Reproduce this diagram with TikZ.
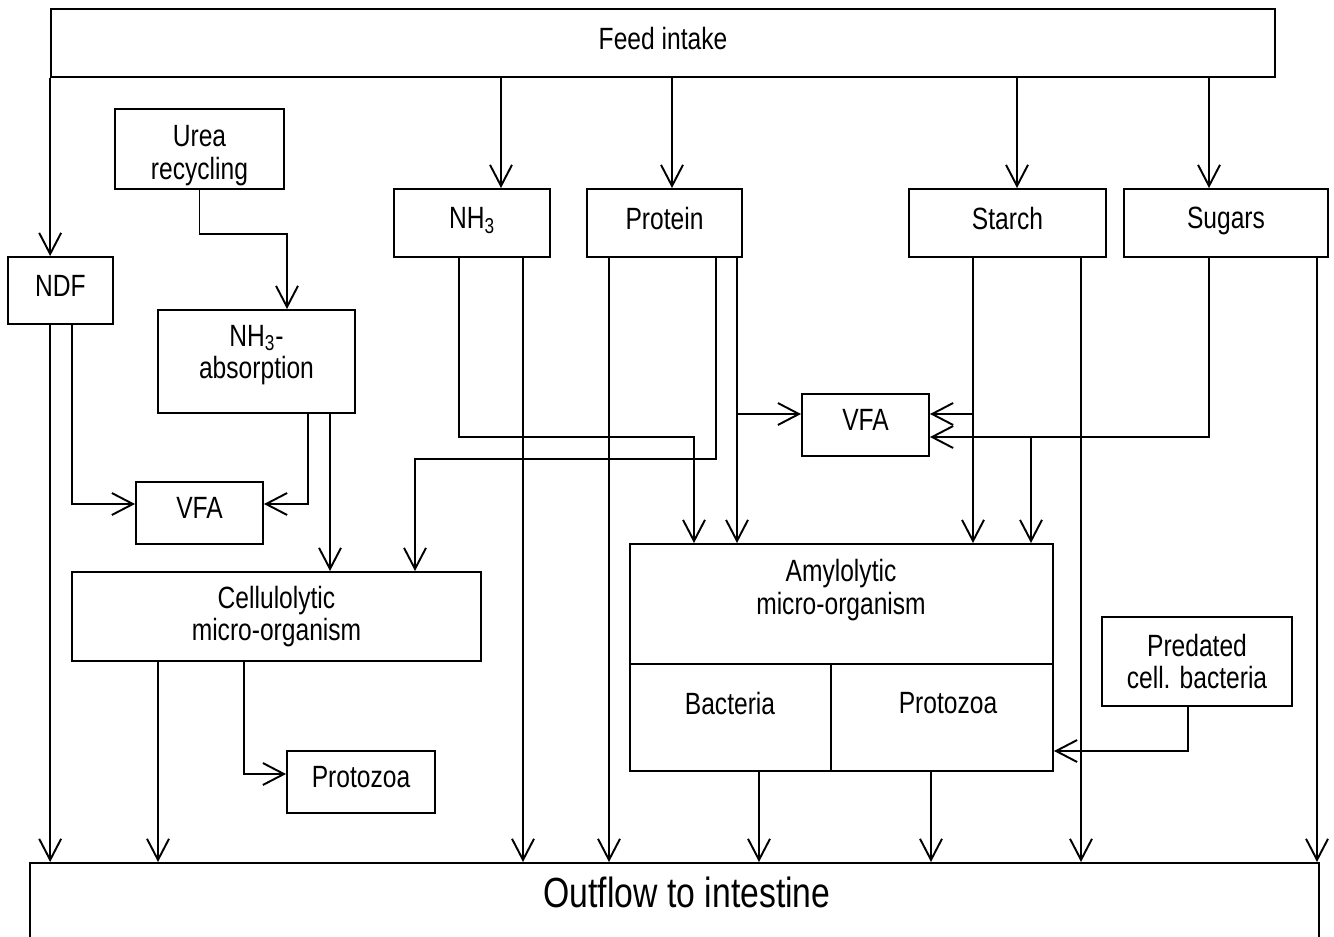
\documentclass[tikz,border=0pt]{standalone}
\usepackage{fontspec}
\setmainfont{Liberation Sans}[FakeStretch=0.8]
\usepackage{tikz}
\usetikzlibrary{arrows.meta, calc, positioning}
\tikzset{
  box/.style={
    rectangle, draw=black, line width=1.1pt,
    align=center, inner sep=0pt, font=\fontsize{17.5}{18.5}\selectfont
  },
  onebox/.style={box, text depth=5.5pt},
  txt/.style={align=center, inner sep=0pt, font=\fontsize{17.5}{18.5}\selectfont},
  flow/.style={-{Straight Barb[length=12pt,width=12.5pt]}, black, line width=1.1pt}
}

\begin{document}
\begin{tikzpicture}[x=0.02cm, y=-0.02cm]
\useasboundingbox (0,0) rectangle (1334,936);
\node[onebox,minimum width=24.48cm,minimum height=1.36cm] (feed) at (663,43) {Feed intake};
\node[box,minimum width=3.38cm,minimum height=1.6cm,text height=38pt] (urea) at (199.5,149) {Urea\\recycling};
\node[onebox,minimum width=2.1cm,minimum height=1.34cm] (ndf) at (60.5,290.5) {NDF};
\node[box,minimum width=3.94cm,minimum height=2.06cm,text depth=11pt] (nhabs) at (256.5,361.5) {NH\textsubscript{3}-\\absorption};
\node[onebox,minimum width=2.54cm,minimum height=1.24cm] (vfaL) at (199.5,513) {VFA};
\node[box,minimum width=8.18cm,minimum height=1.78cm] (cell) at (276.5,616.5) {Cellulolytic\\micro-organism};
\node[onebox,minimum width=2.96cm,minimum height=1.24cm] (protL) at (361,782) {Protozoa};
\node[onebox,minimum width=3.12cm,minimum height=1.36cm] (nh3) at (472,223) {NH\textsubscript{3}};
\node[onebox,minimum width=3.1cm,minimum height=1.36cm] (prot) at (664.5,223) {Protein};
\node[onebox,minimum width=3.94cm,minimum height=1.36cm] (starch) at (1007.5,223) {Starch};
\node[onebox,minimum width=4.08cm,minimum height=1.36cm] (sugars) at (1226,223) {Sugars};
\node[onebox,minimum width=2.54cm,minimum height=1.24cm] (vfaR) at (865.5,425) {VFA};
\node[box,minimum width=8.46cm,minimum height=2.4cm] (amylo) at (841.5,604) {};
\node[txt] (amylotxt) at (841,590) {Amylolytic\\micro-organism};
\node[box,minimum width=4.02cm,minimum height=2.14cm] (bac) at (730.5,717.5) {};
\node[txt] (bactxt) at (730,703) {Bacteria};
\node[box,minimum width=4.44cm,minimum height=2.14cm] (protR) at (942,717.5) {};
\node[txt] (protRtxt) at (948,703) {Protozoa};
\node[box,minimum width=3.8cm,minimum height=1.78cm] (pred) at (1197,661.5) {Predated\\cell. bacteria};
\node[box,anchor=north west,minimum width=25.78cm,minimum height=3cm] (outflow) at (29,862) {};
\node[txt,font=\fontsize{24}{25}\selectfont] (outtxt) at (687,892) {Outflow to intestine};
\coordinate (kNH) at (501,0);
\coordinate (kProt) at (672,0);
\coordinate (kStarch) at (1017,0);
\coordinate (kSugars) at (1209,437);
\coordinate (ureabend) at (287,234);
\coordinate (ndfbend) at (72,504);
\coordinate (absbend) at (308,504);
\coordinate (abscell) at (330,0);
\coordinate (protbend) at (716,459);
\coordinate (cellin) at (415,459);
\coordinate (nhbend) at (459,437);
\coordinate (amyin) at (694,437);
\coordinate (nhout) at (523,0);
\coordinate (protout) at (609,0);
\coordinate (protvfa) at (737,414);
\coordinate (starchvfa) at (973,414);
\coordinate (starchout) at (1081,0);
\coordinate (sugamy) at (1031,437);
\coordinate (sugout) at (1317,0);
\coordinate (cellout) at (158,0);
\coordinate (cellbend) at (244,774);
\coordinate (bacout) at (759,0);
\coordinate (protRout) at (931,0);
\coordinate (predbend) at (1188,751);
\draw[flow] (feed.south west) -- (feed.south west |- ndf.north);
\draw[flow] (feed.south -| kNH) -- (nh3.north -| kNH);
\draw[flow] (feed.south -| kProt) -- (prot.north -| kProt);
\draw[flow] (feed.south -| kStarch) -- (starch.north -| kStarch);
\draw[flow] (feed.south -| kSugars) -- (sugars.north -| kSugars);
\draw[flow] (urea.south) |- (ureabend) -- (ureabend |- nhabs.north);
\draw[flow] (ndf.south -| ndfbend) -- (ndfbend) -- (ndfbend -| vfaL.west);
\draw[flow] (nhabs.south -| absbend) -- (absbend) -- (absbend -| vfaL.east);
\draw[flow] (nhabs.south -| abscell) -- (cell.north -| abscell);
\draw[flow] (prot.south -| protbend) -- (protbend) -- (cellin) -- (cellin |- cell.north);
\draw[flow] (nh3.south -| nhbend) -- (nhbend) -- (amyin) -- (amyin |- amylo.north);
\draw[flow] (nh3.south -| nhout) -- (outflow.north -| nhout);
\draw[flow] (prot.south -| protout) -- (outflow.north -| protout);
\draw[flow] (prot.south -| protvfa) -- (amylo.north -| protvfa);
\draw[flow] (protvfa) -- (protvfa -| vfaR.west);
\draw[flow] (starch.south -| starchvfa) -- (amylo.north -| starchvfa);
\draw[flow] (starchvfa) -- (starchvfa -| vfaR.east);
\draw[flow] (starch.south -| starchout) -- (outflow.north -| starchout);
\draw[flow] (sugars.south -| kSugars) -- (kSugars) -- (kSugars -| vfaR.east);
\draw[flow] (sugamy) -- (sugamy |- amylo.north);
\draw[flow] (sugars.south -| sugout) -- (outflow.north -| sugout);
\draw[flow] (ndf.south -| feed.west) -- (outflow.north -| feed.west);
\draw[flow] (cell.south -| cellout) -- (outflow.north -| cellout);
\draw[flow] (cell.south -| cellbend) -- (cellbend) -- (cellbend -| protL.west);
\draw[flow] (bac.south -| bacout) -- (outflow.north -| bacout);
\draw[flow] (protR.south -| protRout) -- (outflow.north -| protRout);
\draw[flow] (pred.south -| predbend) -- (predbend) -- (predbend -| protR.east);
\end{tikzpicture}
\end{document}
